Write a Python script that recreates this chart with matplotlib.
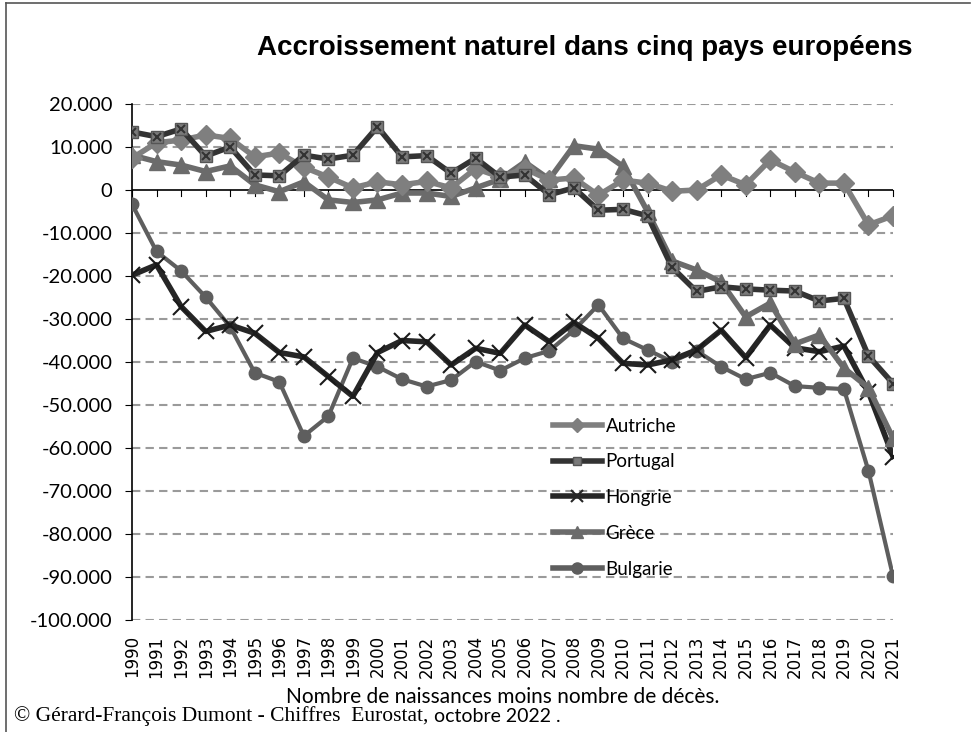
import numpy as np
import matplotlib
matplotlib.use("Agg")
import matplotlib.pyplot as plt
from matplotlib.lines import Line2D
from matplotlib.ticker import FuncFormatter

years = list(range(1990, 2022))

autriche = [7400, 11000, 11600, 12800, 12000, 7700, 8600, 5300, 3000, 500,
            1900, 1200, 2000, 500, 5000, 3000, 5000, 2300, 2800, -1200,
            2300, 1600, -300, 0, 3500, 1200, 7000, 4200, 1600, 1600,
            -8100, -6000]
portugal = [13500, 12400, 14200, 7900, 10000, 3500, 3300, 8100, 7200, 8100,
            14700, 7700, 8000, 3900, 7400, 3000, 3500, -1100, 500, -4700,
            -4500, -6000, -18000, -23600, -22500, -23000, -23300, -23500, -25800, -25200,
            -38600, -45000]
hongrie = [-19800, -17400, -27100, -32900, -31400, -33300, -37800, -38800, -43400, -48000,
           -37800, -35000, -35300, -40700, -36800, -38000, -31400, -35300, -30800, -34500,
           -40300, -40700, -39500, -37200, -32600, -39000, -31400, -36700, -37600, -36300,
           -47000, -62000]
grece = [8100, 6600, 5800, 4300, 5600, 1200, -400, 1900, -2300, -2900,
         -2300, -700, -700, -1500, 500, 2500, 6500, 2500, 10300, 9500,
         5500, -5000, -16500, -18600, -21400, -29500, -26300, -35800, -33700, -41400,
         -46000, -57700]
bulgarie = [-3300, -14300, -18800, -24900, -31800, -42500, -44600, -57200, -52600, -39100,
            -41100, -44000, -45700, -44200, -39900, -42000, -39100, -37400, -32600, -26700,
            -34500, -37200, -39900, -37400, -41100, -44000, -42500, -45600, -46000, -46300,
            -65300, -89800]

y_ticks = list(range(-100000, 20001, 10000))

fig = plt.figure(figsize=(9.75, 7.32), dpi=100)
ax = fig.add_axes([132 / 975, 1 - 620 / 732, (893 - 132) / 975, (620 - 104) / 732])

# lines (drawn back to front)
ax.plot(years, bulgarie, color="#5e5e5e", lw=3, marker="o", ms=9, zorder=3)
ax.plot(years, hongrie, color="#262626", lw=4, marker="x", ms=12, mew=1.5,
        mec="#1a1a1a", zorder=4)
ax.plot(years, portugal, color="#333333", lw=4, marker="s", ms=8, mfc="#7a7a7a",
        mec="#555555", zorder=5)
ax.plot(years, portugal, ls="none", marker="x", ms=6, mew=1.5, color="#333333", zorder=6)
ax.plot(years, grece, color="#6b6b6b", lw=4, marker="^", ms=12, zorder=4)
ax.plot(years, autriche, color="#7f7f7f", lw=4, marker="D", ms=10, zorder=4)

ax.set_xlim(1990, 2021)
ax.set_ylim(-100000, 20000)

for v in y_ticks:
    if v != 0:
        ax.axhline(v, color="#9a9a9a", lw=1.5, ls=(0, (4, 2.5)), zorder=1)
ax.axhline(0, color="black", lw=1.2, zorder=2)
for yr in years:
    ax.plot([yr, yr], [0, -1400], color="black", lw=0.8, zorder=2, clip_on=False)

ax.set_yticks(y_ticks)
ax.yaxis.set_major_formatter(FuncFormatter(lambda v, p: "0" if v == 0 else f"{int(v):,}".replace(",", ".")))
for lab in ax.get_yticklabels():
    lab.set_fontfamily("Lato")
    lab.set_fontsize(14.5)
ax.tick_params(axis="y", length=5, width=0.8, pad=9)

ax.set_xticks(years)
ax.set_xticklabels([str(y) for y in years], rotation=90, fontsize=12)
ax.tick_params(axis="x", length=0, pad=11)

for s in ["top", "right", "bottom"]:
    ax.spines[s].set_visible(False)
ax.spines["left"].set_linewidth(1.2)

# legend
handles = [
    Line2D([], [], color="#7f7f7f", lw=4, marker="D", ms=7),
    Line2D([], [], color="#333333", lw=4, marker="s", ms=6, mfc="#7a7a7a", mec="#555555"),
    Line2D([], [], color="#262626", lw=4, marker="x", ms=9, mew=1.5),
    Line2D([], [], color="#6b6b6b", lw=4, marker="^", ms=9),
    Line2D([], [], color="#5e5e5e", lw=4, marker="o", ms=8),
]
ax.legend(handles, ["Autriche", "Portugal", "Hongrie", "Grèce", "Bulgarie"],
          loc="center left", bbox_to_anchor=((553 - 132) / 761, (620 - 497.5) / 516),
          frameon=False, prop={"family": "Lato", "size": 13.5}, handlelength=2.6,
          handletextpad=0.2, labelspacing=1.0, borderpad=0, borderaxespad=0)

fig.text(585 / 975, 1 - 48 / 732, "Accroissement naturel dans cinq pays européens",
         ha="center", va="center", fontsize=20, fontweight="bold", family="Liberation Sans")
fig.text(503 / 975, 1 - 697 / 732, "Nombre de naissances moins nombre de décès.",
         ha="center", va="center", fontsize=15, family="Lato")
t = fig.text(14 / 975, 1 - 716 / 732, "© Gérard-François Dumont - Chiffres  Eurostat, ",
             ha="left", va="center", fontsize=15.5, family="Liberation Serif")
fig.canvas.draw()
bb = t.get_window_extent()
fig.text(bb.x1 / 975, 1 - 716 / 732, "octobre 2022 .", ha="left", va="center",
         fontsize=14, family="Lato")

# outer frame
fig.add_artist(Line2D([6 / 975, 6 / 975], [0, 1 - 3 / 732], color="#555555", lw=1.2))
fig.add_artist(Line2D([6 / 975, 970 / 975], [1 - 3 / 732, 1 - 3 / 732], color="#555555", lw=1.2))

fig.savefig("out.png", dpi=100)
